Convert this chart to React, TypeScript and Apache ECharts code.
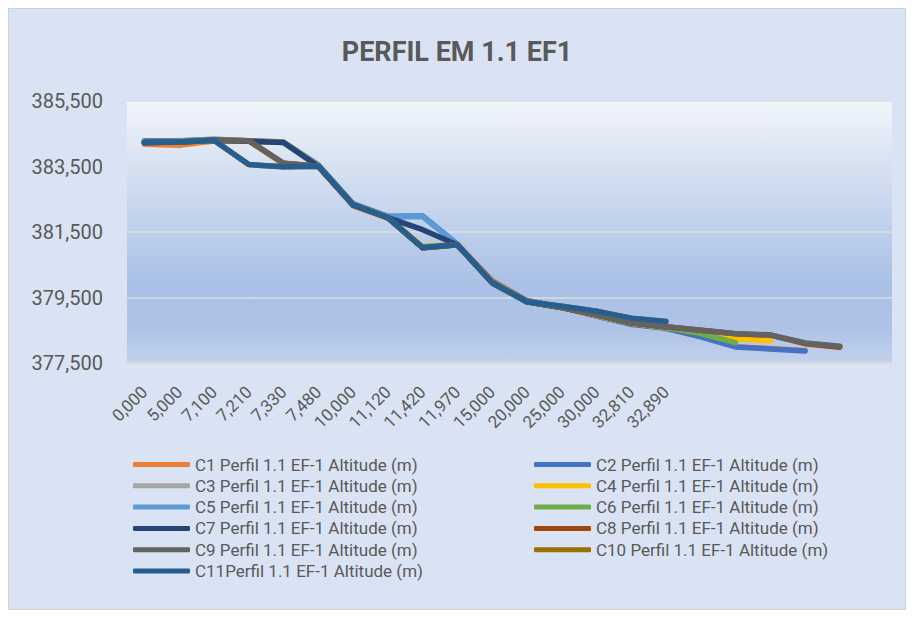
import React, { useEffect, useRef } from "react";
import * as echarts from "echarts";

const TITLE = "PERFIL EM 1.1 EF1";

const distanceLabels = [
  "0,000", "5,000", "7,100", "7,210", "7,330", "7,480", "10,000", "11,120",
  "11,420", "11,970", "15,000", "20,000", "25,000", "30,000", "32,810", "32,890",
];
const extraSlots = ["", "", "", "", "", ""];

const seriesNames = [
  "C1 Perfil 1.1 EF-1 Altitude (m)",
  "C2 Perfil 1.1 EF-1 Altitude (m)",
  "C3 Perfil 1.1 EF-1 Altitude (m)",
  "C4 Perfil 1.1 EF-1 Altitude (m)",
  "C5 Perfil 1.1 EF-1 Altitude (m)",
  "C6 Perfil 1.1 EF-1 Altitude (m)",
  "C7 Perfil 1.1 EF-1 Altitude (m)",
  "C8 Perfil 1.1 EF-1 Altitude (m)",
  "C9 Perfil 1.1 EF-1 Altitude (m)",
  "C10 Perfil 1.1 EF-1 Altitude (m)",
  "C11Perfil 1.1 EF-1 Altitude (m)",
];

const seriesColors = [
  "#ED7D31", "#4472C4", "#A5A5A5", "#FFC000", "#5B9BD5", "#70AD47",
  "#264478", "#9E480E", "#636363", "#997300", "#255E91",
];

const c1 = [384.18, 384.15, 384.28, 384.28, 383.58, 383.50, 382.30, 381.92, 381.04, 381.12, 380.02, 379.40, 379.20, 378.94, 378.69, 378.56, 378.31, 378.00, 377.94, 377.88];
const c2 = [384.29, 384.29, 384.33, 384.29, 384.25, 383.55, 382.37, 381.98, 381.99, 381.13, 379.99, 379.40, 379.20, 378.93, 378.68, 378.56, 378.30, 377.99, 377.93, 377.87];
const c3 = [384.23, 384.25, 384.30, 384.29, 383.60, 383.51, 382.33, 381.94, 381.02, 381.11, 379.95, 379.37, 379.19, 378.97, 378.73, 378.61, 378.50, 378.39, 378.36, 378.11, 378.01];
const c4 = [384.24, 384.26, 384.31, 384.28, 384.24, 383.52, 382.34, 381.95, 381.05, 381.12, 379.96, 379.38, 379.19, 378.95, 378.71, 378.58, 378.43, 378.24, 378.18];
const c5 = [384.27, 384.27, 384.31, 384.27, 384.23, 383.52, 382.34, 381.96, 381.97, 381.12, 379.96, 379.38, 379.19, 378.97, 378.73, 378.60];
const c6 = [384.24, 384.26, 384.31, 384.28, 384.24, 383.52, 382.34, 381.95, 381.05, 381.12, 379.96, 379.38, 379.19, 378.96, 378.72, 378.59, 378.40, 378.12];
const c7 = [384.23, 384.25, 384.30, 384.27, 384.23, 383.51, 382.33, 381.94, 381.57, 381.11, 379.95, 379.37, 379.19, 378.97, 378.73, 378.61];
const c8 = [384.23, 384.25, 384.30, 384.29, 383.60, 383.51, 382.33, 381.94, 381.02, 381.11, 379.95, 379.37, 379.19, 378.97, 378.73, 378.61, 378.50, 378.39, 378.35, 378.09, 377.98];
const c9 = [384.23, 384.25, 384.30, 384.29, 383.60, 383.51, 382.33, 381.94, 381.02, 381.11, 379.95, 379.37, 379.19, 378.97, 378.73, 378.61, 378.50, 378.39, 378.36, 378.11, 378.01];
const c10 = [384.23, 384.25, 384.30, 383.56, 383.49, 383.51, 382.33, 381.94, 381.02, 381.11, 379.95, 379.37, 379.23, 379.08, 378.87, 378.77];
const c11 = [384.23, 384.25, 384.30, 383.56, 383.49, 383.51, 382.33, 381.94, 381.02, 381.11, 379.95, 379.37, 379.23, 379.08, 378.87, 378.77];

const seriesValues = [c1, c2, c3, c4, c5, c6, c7, c8, c9, c10, c11];

const yMin = 377.5;
const yMax = 385.5;
const yStep = 2;

const TEXT = "#595959";
const FONT = "Roboto, 'Noto Sans', sans-serif";

export default function App() {
  const ref = useRef<HTMLDivElement>(null);

  useEffect(() => {
    if (!ref.current) return;
    const chart = echarts.init(ref.current, undefined, { renderer: "svg" });
    const categories = [...distanceLabels, ...extraSlots];
    const legendCommon = {
      orient: "vertical" as const,
      icon: "roundRect",
      itemWidth: 57,
      itemHeight: 5,
      itemGap: 4.3,
      textStyle: { color: TEXT, fontSize: 17, fontFamily: FONT, lineHeight: 17 },
    };
    chart.setOption({
      animation: false,
      title: {
        text: TITLE,
        left: "center",
        top: 24,
        textStyle: {
          color: TEXT,
          fontSize: 27,
          fontWeight: "bold",
          fontFamily: FONT,
        },
      },
      grid: {
        left: 118,
        top: 92,
        width: 765,
        height: 262,
        show: true,
        borderWidth: 0,
        backgroundColor: new echarts.graphic.LinearGradient(0, 0, 0, 1, [
          { offset: 0, color: "#f2f5fb" },
          { offset: 0.25, color: "#d7e1f2" },
          { offset: 0.7, color: "#aac0e6" },
          { offset: 0.87, color: "#afc3e7" },
          { offset: 1, color: "#c2d1ec" },
        ]),
      },
      xAxis: {
        type: "category",
        data: categories,
        boundaryGap: true,
        axisLine: { show: true, lineStyle: { color: "#d9d9d9", width: 1.5 } },
        axisTick: { show: false },
        axisLabel: {
          rotate: 45,
          interval: 0,
          color: TEXT,
          fontSize: 17,
          fontFamily: FONT,
          margin: 26,
        },
      },
      yAxis: {
        type: "value",
        min: yMin,
        max: yMax,
        interval: yStep,
        axisLine: { show: false },
        axisTick: { show: false },
        splitLine: { lineStyle: { color: "#dcdcdc", width: 1.5 } },
        axisLabel: {
          color: TEXT,
          fontSize: 20,
          fontFamily: FONT,
          margin: 24,
          formatter: (v: number) => v.toFixed(3).replace(".", ","),
        },
      },
      legend: [
        {
          ...legendCommon,
          left: 119,
          top: 442,
          data: seriesNames.filter((_, i) => i % 2 === 0),
        },
        {
          ...legendCommon,
          left: 520,
          top: 442,
          data: seriesNames.filter((_, i) => i % 2 === 1),
        },
      ],
      series: seriesNames.map((name, i) => ({
        name,
        type: "line",
        data: seriesValues[i],
        symbol: "none",
        color: seriesColors[i],
        lineStyle: { width: 5.5, color: seriesColors[i], cap: "round", join: "round" },
        z: 2 + i,
      })),
    });
    return () => chart.dispose();
  }, []);

  return (
    <div
      style={{
        width: 898,
        height: 602,
        boxSizing: "border-box",
        border: "1px solid #d0d0d0",
        background: "#dae3f3",
      }}
    >
      <div ref={ref} style={{ width: 896, height: 600 }} />
    </div>
  );
}
